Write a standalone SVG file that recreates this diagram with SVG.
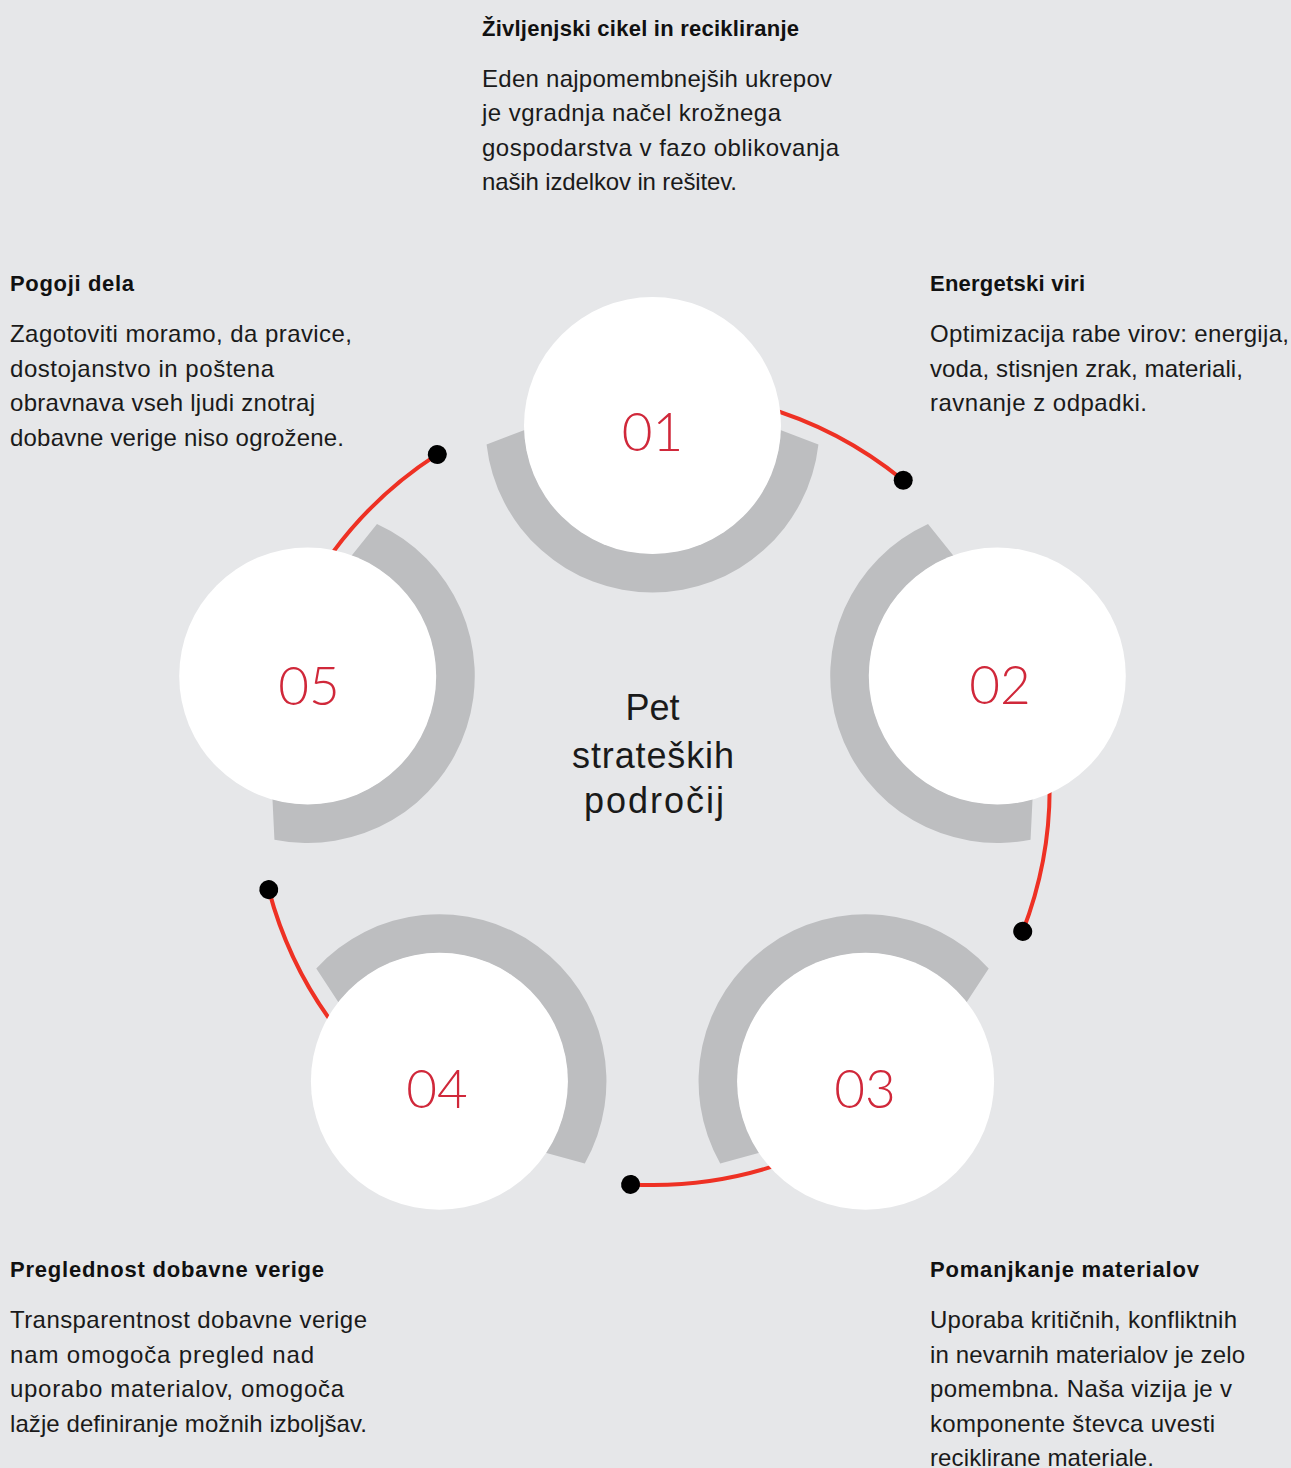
<svg xmlns="http://www.w3.org/2000/svg" width="1291" height="1468" viewBox="0 0 1291 1468">
<style>
.bg{fill:#E6E7E9}
.ring{fill:#BDBEC0}
.disc{fill:#FFFFFF}
.num{font-family:"Lato","Liberation Sans",sans-serif;font-weight:300;font-size:53px;fill:#D0283A;text-anchor:middle}
.link{fill:none;stroke:#EE3124;stroke-width:4}
.dot{fill:#000000}
.h{font-family:"Liberation Sans",Arial,sans-serif;font-weight:bold;font-size:22px;fill:#111111}
.b{font-family:"Liberation Sans",Arial,sans-serif;font-size:24px;fill:#1a1a1a}
.c{font-family:"Liberation Sans",Arial,sans-serif;font-size:36px;fill:#1a1a1a;text-anchor:middle}
</style>
<defs>
<path id="ringShape" d="M165.93,-343.6 A167,167 0 0 1 -165.93,-343.6 L-127.92,-358.03 A128,128 0 0 0 127.92,-358.03 Z"/>
<path id="linkShape" d="M68.94,-390.97 A397,397 0 0 1 250.74,-307.8"/>
</defs>
<rect class="bg" x="0" y="0" width="1291" height="1468"/>

<g id="connectors">
  <g transform="translate(652.5 788)">
    <use href="#linkShape" class="link"/>
    <circle class="dot" cx="250.74" cy="-307.8" r="9.5"/>
  </g>
  <g transform="translate(652.5 788) rotate(72)">
    <use href="#linkShape" class="link"/>
    <circle class="dot" cx="250.74" cy="-307.8" r="9.5"/>
  </g>
  <g transform="translate(652.5 788) rotate(144)">
    <use href="#linkShape" class="link"/>
    <circle class="dot" cx="250.74" cy="-307.8" r="9.5"/>
  </g>
  <g transform="translate(652.5 788) rotate(216)">
    <use href="#linkShape" class="link"/>
    <circle class="dot" cx="250.74" cy="-307.8" r="9.5"/>
  </g>
  <g transform="translate(652.5 788) rotate(288)">
    <use href="#linkShape" class="link"/>
    <circle class="dot" cx="250.74" cy="-307.8" r="9.5"/>
  </g>
</g>

<g id="node01">
  <use href="#ringShape" class="ring" transform="translate(652.5 788)"/>
  <circle class="disc" cx="652.5" cy="425.5" r="128.5"/>
  <text class="num" x="652.5" y="451">01</text>
</g>
<g id="node02">
  <use href="#ringShape" class="ring" transform="translate(652.5 788) rotate(72)"/>
  <circle class="disc" cx="997.3" cy="676" r="128.5"/>
  <text class="num" x="1000" y="704">02</text>
</g>
<g id="node03">
  <use href="#ringShape" class="ring" transform="translate(652.5 788) rotate(144)"/>
  <circle class="disc" cx="865.6" cy="1081.3" r="128.5"/>
  <text class="num" x="865" y="1108">03</text>
</g>
<g id="node04">
  <use href="#ringShape" class="ring" transform="translate(652.5 788) rotate(216)"/>
  <circle class="disc" cx="439.4" cy="1081.3" r="128.5"/>
  <text class="num" x="437" y="1108">04</text>
</g>
<g id="node05">
  <use href="#ringShape" class="ring" transform="translate(652.5 788) rotate(288)"/>
  <circle class="disc" cx="307.7" cy="676" r="128.5"/>
  <text class="num" x="309" y="705">05</text>
</g>

<g id="center">
  <text class="c" x="652.5" y="720">Pet</text>
  <text class="c" x="653" y="768" textLength="162">strateških</text>
  <text class="c" x="654" y="813" textLength="140">področij</text>
</g>

<g id="text-top">
  <text class="h" x="482" y="36" textLength="317">Življenjski cikel in recikliranje</text>
  <text class="b" x="482" y="86.5" textLength="350">Eden najpomembnejših ukrepov</text>
  <text class="b" x="482" y="121" textLength="299">je vgradnja načel krožnega</text>
  <text class="b" x="482" y="155.5" textLength="357">gospodarstva v fazo oblikovanja</text>
  <text class="b" x="482" y="190" textLength="255">naših izdelkov in rešitev.</text>
</g>

<g id="text-right">
  <text class="h" x="930" y="291" textLength="155">Energetski viri</text>
  <text class="b" x="930" y="342" textLength="359">Optimizacija rabe virov: energija,</text>
  <text class="b" x="930" y="376.5" textLength="313">voda, stisnjen zrak, materiali,</text>
  <text class="b" x="930" y="411" textLength="217">ravnanje z odpadki.</text>
</g>

<g id="text-left">
  <text class="h" x="10" y="291" textLength="124">Pogoji dela</text>
  <text class="b" x="10" y="342" textLength="342">Zagotoviti moramo, da pravice,</text>
  <text class="b" x="10" y="376.5" textLength="264">dostojanstvo in poštena</text>
  <text class="b" x="10" y="411" textLength="305">obravnava vseh ljudi znotraj</text>
  <text class="b" x="10" y="445.5" textLength="334">dobavne verige niso ogrožene.</text>
</g>

<g id="text-bottom-left">
  <text class="h" x="10" y="1277" textLength="314">Preglednost dobavne verige</text>
  <text class="b" x="10" y="1328" textLength="357">Transparentnost dobavne verige</text>
  <text class="b" x="10" y="1362.5" textLength="304">nam omogoča pregled nad</text>
  <text class="b" x="10" y="1397" textLength="334">uporabo materialov, omogoča</text>
  <text class="b" x="10" y="1431.5" textLength="357">lažje definiranje možnih izboljšav.</text>
</g>

<g id="text-bottom-right">
  <text class="h" x="930" y="1277" textLength="269">Pomanjkanje materialov</text>
  <text class="b" x="930" y="1328" textLength="307">Uporaba kritičnih, konfliktnih</text>
  <text class="b" x="930" y="1362.5" textLength="315">in nevarnih materialov je zelo</text>
  <text class="b" x="930" y="1397" textLength="302">pomembna. Naša vizija je v</text>
  <text class="b" x="930" y="1431.5" textLength="285">komponente števca uvesti</text>
  <text class="b" x="930" y="1466" textLength="224">reciklirane materiale.</text>
</g>
</svg>
